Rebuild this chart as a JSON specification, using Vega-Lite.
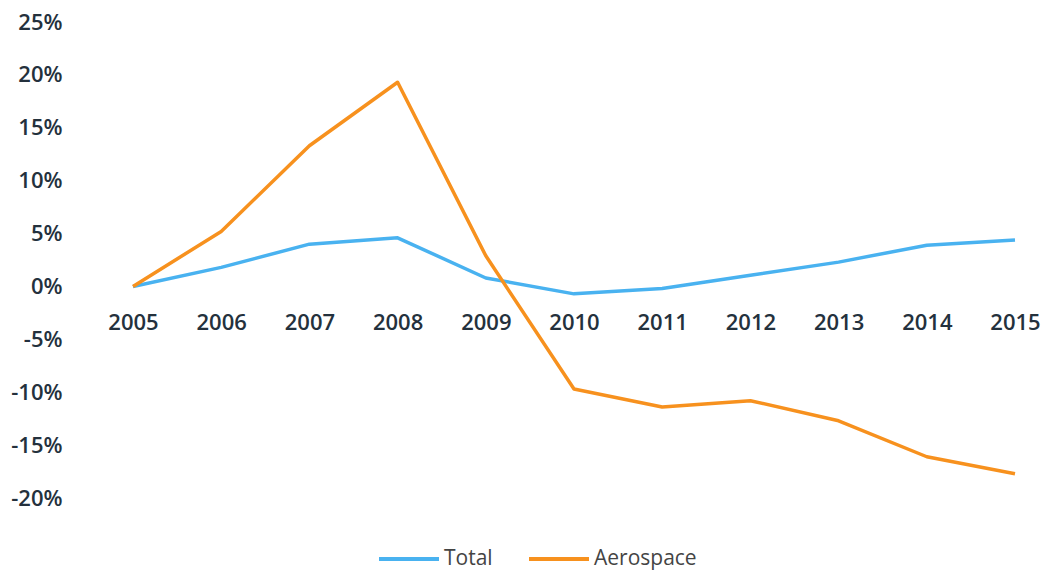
{
  "$schema": "https://vega.github.io/schema/vega-lite/v6.json",
  "autosize": "none",
  "width": 882,
  "height": 476,
  "padding": {"left": 133, "top": 22, "right": 33, "bottom": 81},
  "background": "white",
  "data": {"values": [
    {"year": 2005, "series": "Total", "value": 0.0},
    {"year": 2006, "series": "Total", "value": 1.8},
    {"year": 2007, "series": "Total", "value": 4.0},
    {"year": 2008, "series": "Total", "value": 4.6},
    {"year": 2009, "series": "Total", "value": 0.8},
    {"year": 2010, "series": "Total", "value": -0.7},
    {"year": 2011, "series": "Total", "value": -0.2},
    {"year": 2012, "series": "Total", "value": 1.05},
    {"year": 2013, "series": "Total", "value": 2.3},
    {"year": 2014, "series": "Total", "value": 3.9},
    {"year": 2015, "series": "Total", "value": 4.4},
    {"year": 2005, "series": "Aerospace", "value": 0.0},
    {"year": 2006, "series": "Aerospace", "value": 5.2},
    {"year": 2007, "series": "Aerospace", "value": 13.3},
    {"year": 2008, "series": "Aerospace", "value": 19.3},
    {"year": 2009, "series": "Aerospace", "value": 2.9},
    {"year": 2010, "series": "Aerospace", "value": -9.7},
    {"year": 2011, "series": "Aerospace", "value": -11.4},
    {"year": 2012, "series": "Aerospace", "value": -10.8},
    {"year": 2013, "series": "Aerospace", "value": -12.7},
    {"year": 2014, "series": "Aerospace", "value": -16.1},
    {"year": 2015, "series": "Aerospace", "value": -17.7}
  ]},
  "mark": {"type": "line", "strokeWidth": 3.5, "strokeJoin": "round"},
  "encoding": {
    "x": {
      "field": "year", "type": "quantitative",
      "scale": {"domain": [2005, 2015], "nice": false, "zero": false},
      "axis": {
        "title": null, "values": [2005,2006,2007,2008,2009,2010,2011,2012,2013,2014,2015],
        "format": "d", "domain": false, "ticks": false, "grid": false,
        "labelFlush": false, "labelBound": false, "labelOverlap": false,
        "offset": -211.5, "labelPadding": 26,
        "labelFont": "Open Sans", "labelFontSize": 22, "labelFontWeight": 600, "labelColor": "#24313d"
      }
    },
    "y": {
      "field": "value", "type": "quantitative",
      "scale": {"domain": [-20, 25], "nice": false, "zero": false},
      "axis": {
        "title": null, "values": [-20,-15,-10,-5,0,5,10,15,20,25],
        "labelExpr": "datum.value + '%'", "domain": false, "ticks": false, "grid": false,
        "labelFlush": false, "labelOverlap": false,
        "labelPadding": 71, "labelFont": "Open Sans", "labelFontSize": 22, "labelFontWeight": 600, "labelColor": "#24313d"
      }
    },
    "color": {
      "field": "series", "type": "nominal",
      "scale": {"domain": ["Total", "Aerospace"], "range": ["#49b2f0", "#f7911e"]},
      "legend": {
        "title": null, "orient": "none", "direction": "horizontal",
        "legendX": 244, "legendY": 505,
        "symbolType": "stroke", "symbolSize": 3600, "symbolStrokeWidth": 4,
        "labelFont": "Open Sans", "labelFontSize": 21, "labelColor": "#444444",
        "labelOffset": 3, "columnPadding": 28
      }
    }
  },
  "config": {"view": {"stroke": null}}
}
